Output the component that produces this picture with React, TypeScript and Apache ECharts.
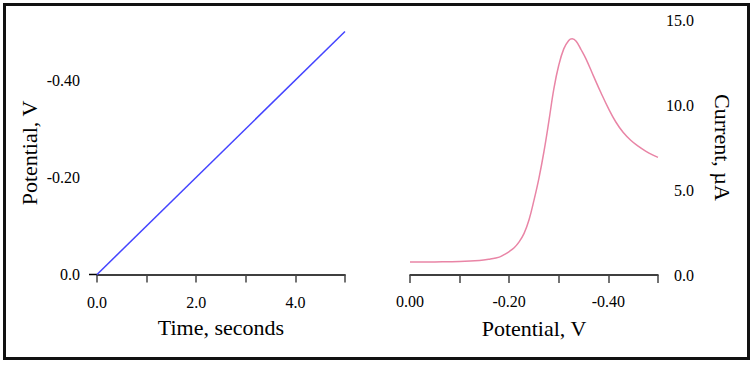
import React, { useEffect, useRef } from "react";
import * as echarts from "echarts";

// Left panel: potential ramp vs time
const rampTime = [0, 5];
const rampPotential = [0, -0.5];

// Right panel: linear sweep voltammogram
const scanPotential = [
  0.0, -0.05, -0.1, -0.14, -0.16, -0.18, -0.19, -0.2, -0.21, -0.22, -0.23, -0.24, -0.25,
  -0.26, -0.27, -0.28, -0.29, -0.3, -0.31, -0.32, -0.327, -0.335, -0.345, -0.355,
  -0.37, -0.385, -0.4, -0.415, -0.43, -0.445, -0.46, -0.475, -0.49, -0.5,
];
const scanCurrent = [
  0.76, 0.77, 0.79, 0.85, 0.93, 1.05, 1.2, 1.38, 1.6, 1.95, 2.45, 3.25, 4.4,
  5.7, 7.25, 9.05, 10.95, 12.35, 13.3, 13.8, 13.9, 13.75, 13.25, 12.7,
  11.7, 10.72, 9.8, 9.0, 8.38, 7.93, 7.58, 7.29, 7.05, 6.92,
];

const timeTickLabels = ["0.0", "2.0", "4.0"];
const rampTickLabels = ["0.0", "-0.20", "-0.40"];
const scanTickLabels = ["0.00", "-0.20", "-0.40"];

const FONT = "'Liberation Serif', 'Times New Roman', serif";

export default function App() {
  const ref = useRef<HTMLDivElement>(null);

  useEffect(() => {
    if (!ref.current) return;
    const chart = echarts.init(ref.current, undefined, { renderer: "svg" });

    const labelStyle = { color: "#000", fontFamily: FONT, fontSize: 16 };
    const nameStyle = { color: "#000", fontFamily: FONT, fontSize: 22 };

    const pick = (labels: string[], v: number, step: number) => {
      const k = Math.round(Math.abs(v) / step);
      const idx = k / 2;
      if (Number.isInteger(idx) && idx < labels.length) return labels[idx];
      return "";
    };

    chart.setOption({
      animation: false,
      backgroundColor: "#fff",
      graphic: [
        {
          type: "rect",
          shape: { x: 4.5, y: 4.5, width: 744, height: 354 },
          style: { fill: "none", stroke: "#111", lineWidth: 3 },
          silent: true,
        },
        {
          type: "line",
          shape: { x1: 89, y1: 274.5, x2: 97, y2: 274.5 },
          style: { stroke: "#000", lineWidth: 1.5 },
          silent: true,
        },
      ],
      grid: [
        { left: 97, top: 31.5, width: 248, height: 243 },
        { left: 410, top: 20, width: 248, height: 255 },
      ],
      xAxis: [
        {
          gridIndex: 0,
          type: "value",
          min: 0,
          max: 5,
          interval: 1,
          name: "Time, seconds",
          nameLocation: "middle",
          nameGap: 42,
          nameTextStyle: nameStyle,
          axisLine: { lineStyle: { color: "#000", width: 1.5 } },
          axisTick: { show: true, length: 8, lineStyle: { color: "#444", width: 1.5 } },
          axisLabel: {
            ...labelStyle,
            margin: 20,
            formatter: (v: number) => pick(timeTickLabels, v, 1),
          },
          splitLine: { show: false },
        },
        {
          gridIndex: 1,
          type: "value",
          inverse: true,
          min: -0.5,
          max: 0,
          interval: 0.1,
          name: "Potential, V",
          nameLocation: "middle",
          nameGap: 42,
          nameTextStyle: nameStyle,
          axisLine: { onZero: false, lineStyle: { color: "#000", width: 1.5 } },
          axisTick: { show: true, length: 8, lineStyle: { color: "#444", width: 1.5 } },
          axisLabel: {
            ...labelStyle,
            margin: 18,
            formatter: (v: number) => pick(scanTickLabels, v, 0.1),
          },
          splitLine: { show: false },
        },
      ],
      yAxis: [
        {
          gridIndex: 0,
          type: "value",
          inverse: true,
          min: -0.5,
          max: 0,
          interval: 0.1,
          name: "Potential, V",
          nameLocation: "middle",
          nameRotate: 90,
          nameGap: 57,
          nameTextStyle: nameStyle,
          axisLine: { show: false },
          axisTick: { show: false },
          axisLabel: {
            ...labelStyle,
            margin: 17,
            formatter: (v: number) => pick(rampTickLabels, v, 0.1),
          },
          splitLine: { show: false },
        },
        {
          gridIndex: 1,
          type: "value",
          position: "right",
          min: 0,
          max: 15,
          interval: 5,
          name: "Current, µA",
          nameLocation: "middle",
          nameRotate: -90,
          nameGap: 53,
          nameTextStyle: nameStyle,
          axisLine: { show: false },
          axisTick: { show: false },
          axisLabel: {
            ...labelStyle,
            align: "right",
            margin: 36,
            formatter: (v: number) => v.toFixed(1),
          },
          splitLine: { show: false },
        },
      ],
      series: [
        {
          type: "line",
          xAxisIndex: 0,
          yAxisIndex: 0,
          data: rampTime.map((t, i) => [t, rampPotential[i]]),
          showSymbol: false,
          lineStyle: { color: "#4444ff", width: 1.5 },
        },
        {
          type: "line",
          xAxisIndex: 1,
          yAxisIndex: 1,
          data: scanPotential.map((p, i) => [p, scanCurrent[i]]),
          showSymbol: false,
          smooth: 0.4,
          lineStyle: { color: "#e985a6", width: 1.5 },
        },
      ],
    });

    return () => chart.dispose();
  }, []);

  return (
    <div
      ref={ref}
      style={{ position: "fixed", left: 0, top: 0, width: 754, height: 365, background: "#fff" }}
    />
  );
}
